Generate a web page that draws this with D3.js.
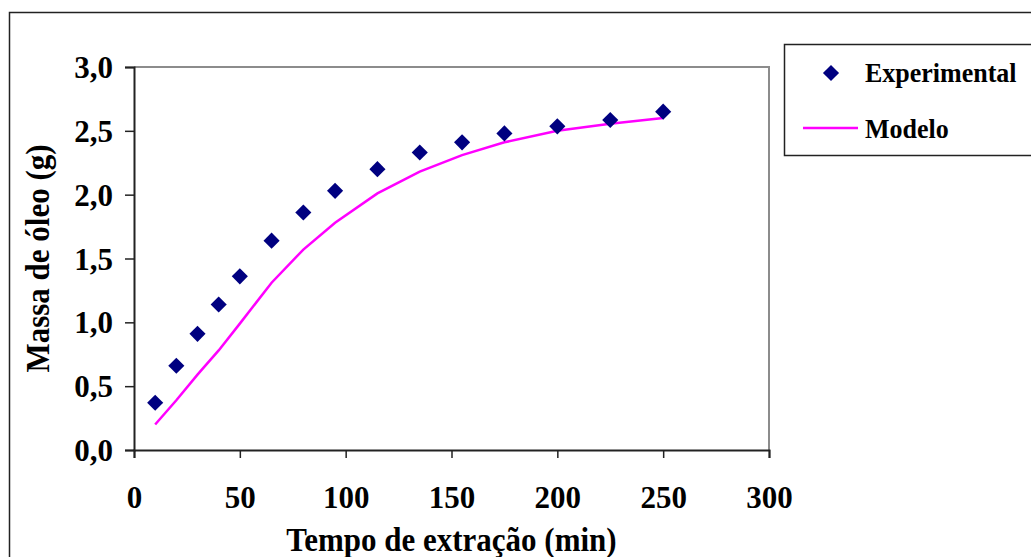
<!DOCTYPE html>
<html>
<head>
<meta charset="utf-8">
<script src="https://cdnjs.cloudflare.com/ajax/libs/d3/7.8.5/d3.min.js"></script>
<style>
  body { margin: 0; background: #fff; }
  svg { display: block; font-family: "Liberation Serif", "Times New Roman", serif; font-weight: bold; }
</style>
</head>
<body>
<script>
// Data
const tempo = [10, 20, 30, 40, 50, 65, 80, 95, 115, 135, 155, 175, 200, 225, 250];
const experimental = [0.37, 0.66, 0.91, 1.14, 1.36, 1.64, 1.86, 2.03, 2.20, 2.33, 2.41, 2.48, 2.535, 2.585, 2.65];
const modelo = [0.20, 0.39, 0.59, 0.78, 0.99, 1.31, 1.57, 1.78, 2.01, 2.18, 2.31, 2.41, 2.50, 2.555, 2.60];
const xTicks = [0, 50, 100, 150, 200, 250, 300];
const yTicks = [0, 0.5, 1, 1.5, 2, 2.5, 3];

const W = 1031, H = 557;
const plot = { left: 134, right: 769, top: 67, bottom: 450 };

const svg = d3.select("body").append("svg")
  .attr("width", W)
  .attr("height", H);

// outer frame
svg.append("rect")
  .attr("x", 9.5).attr("y", 12.5)
  .attr("width", W + 20).attr("height", H + 20)
  .attr("fill", "none")
  .attr("stroke", "#222")
  .attr("stroke-width", 1.5);

const x = d3.scaleLinear().domain([0, 300]).range([plot.left, plot.right]);
const y = d3.scaleLinear().domain([0, 3]).range([plot.bottom, plot.top]);

// top and right border of plot area
svg.append("path")
  .attr("d", `M${plot.left},${plot.top}H${plot.right}V${plot.bottom}`)
  .attr("fill", "none")
  .attr("stroke", "#8c8c8c")
  .attr("stroke-width", 2);

const fmt = d => d3.format(".1f")(d).replace(".", ",");

// y axis
const gy = svg.append("g")
  .attr("transform", `translate(${plot.left},0)`)
  .call(d3.axisLeft(y).tickValues(yTicks).tickSize(9).tickPadding(12).tickFormat(fmt));

// x axis
const gx = svg.append("g")
  .attr("transform", `translate(0,${plot.bottom})`)
  .call(d3.axisBottom(x).tickValues(xTicks).tickSize(8).tickPadding(28).tickFormat(d3.format("d")));

[gx, gy].forEach(g => {
  g.select(".domain").attr("stroke", "#222").attr("stroke-width", 2);
  g.selectAll(".tick line").attr("stroke", "#222").attr("stroke-width", 1.5);
  g.selectAll(".tick text")
    .attr("fill", "#000")
    .style("font-size", "31px")
    .style("font-family", "'Liberation Serif', 'Times New Roman', serif")
    .style("font-weight", "bold");
});
gy.selectAll(".tick text").attr("dy", "0.34em");

// model line
const line = d3.line()
  .x((d, i) => x(tempo[i]))
  .y(d => y(d));

svg.append("path")
  .datum(modelo)
  .attr("fill", "none")
  .attr("stroke", "#ff00ff")
  .attr("stroke-width", 2.5)
  .attr("d", line);

// experimental points (diamonds)
const diamond = d3.symbol().type(d3.symbolSquare).size(130);
svg.append("g").selectAll("path")
  .data(experimental)
  .join("path")
    .attr("d", diamond)
    .attr("transform", (d, i) => `translate(${x(tempo[i])},${y(d)}) rotate(45)`)
    .attr("fill", "#000080");

// axis titles (slightly stretched vertically, like the original)
svg.append("text")
  .attr("transform", `translate(${(plot.left + plot.right) / 2},551) scale(1,1.12)`)
  .attr("text-anchor", "middle")
  .style("font-size", "31px")
  .text("Tempo de extração (min)");

svg.append("text")
  .attr("transform", `translate(49,${(plot.top + plot.bottom) / 2}) rotate(-90) scale(1,1.08)`)
  .attr("text-anchor", "middle")
  .style("font-size", "31px")
  .text("Massa de óleo (g)");

// legend
const lg = svg.append("g");
lg.append("rect")
  .attr("x", 784.5).attr("y", 44.5)
  .attr("width", 300).attr("height", 111)
  .attr("fill", "#fff")
  .attr("stroke", "#222")
  .attr("stroke-width", 1.5);
lg.append("path")
  .attr("d", diamond)
  .attr("transform", "translate(831,73) rotate(45)")
  .attr("fill", "#000080");
lg.append("text")
  .attr("transform", "translate(865,82) scale(1,1.05)")
  .style("font-size", "26px")
  .text("Experimental");
lg.append("line")
  .attr("x1", 803).attr("x2", 858)
  .attr("y1", 128).attr("y2", 128)
  .attr("stroke", "#ff00ff")
  .attr("stroke-width", 2.5);
lg.append("text")
  .attr("transform", "translate(865,138) scale(1,1.05)")
  .style("font-size", "26px")
  .text("Modelo");
</script>
</body>
</html>
